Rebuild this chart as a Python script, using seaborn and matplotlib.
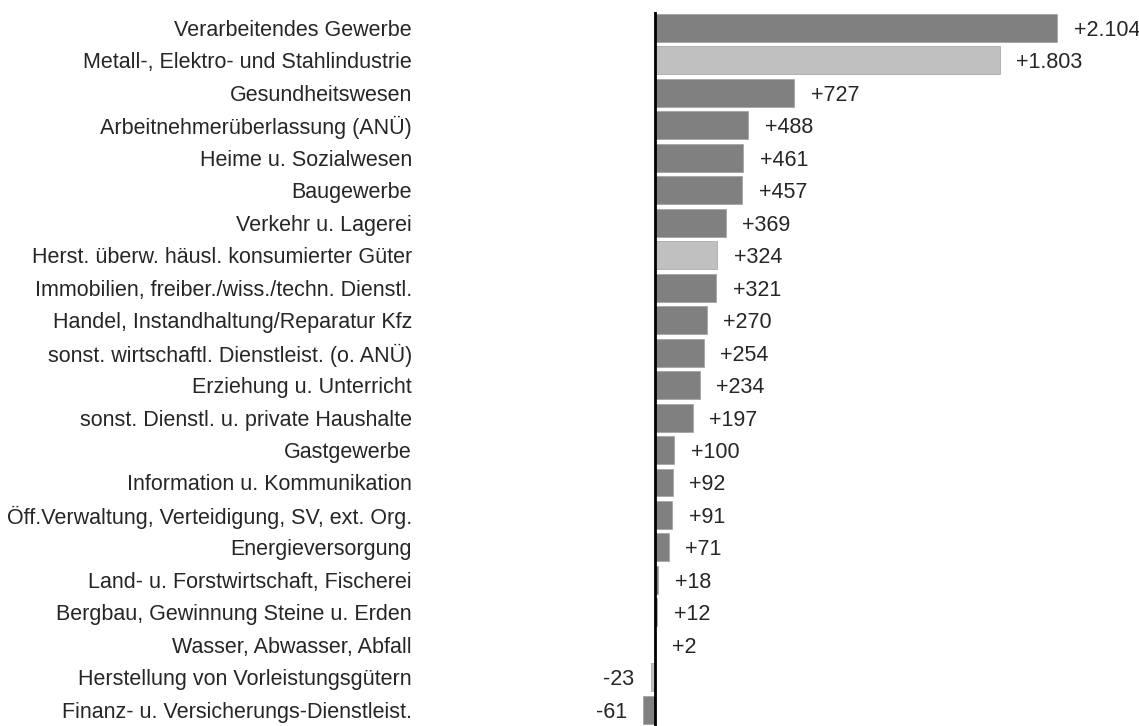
import matplotlib
matplotlib.use("Agg")
import matplotlib.pyplot as plt
import seaborn as sns
import pandas as pd

# Data
branchen = [
    "Verarbeitendes Gewerbe",
    "Metall-, Elektro- und Stahlindustrie",
    "Gesundheitswesen",
    "Arbeitnehmerüberlassung (ANÜ)",
    "Heime u. Sozialwesen",
    "Baugewerbe",
    "Verkehr u. Lagerei",
    "Herst. überw. häusl. konsumierter Güter",
    "Immobilien, freiber./wiss./techn. Dienstl.",
    "Handel, Instandhaltung/Reparatur Kfz",
    "sonst. wirtschaftl. Dienstleist. (o. ANÜ)",
    "Erziehung u. Unterricht",
    "sonst. Dienstl. u. private Haushalte",
    "Gastgewerbe",
    "Information u. Kommunikation",
    "Öff.Verwaltung, Verteidigung, SV, ext. Org.",
    "Energieversorgung",
    "Land- u. Forstwirtschaft, Fischerei",
    "Bergbau, Gewinnung Steine u. Erden",
    "Wasser, Abwasser, Abfall",
    "Herstellung von Vorleistungsgütern",
    "Finanz- u. Versicherungs-Dienstleist.",
]
veraenderung = [2104, 1803, 727, 488, 461, 457, 369, 324, 321, 270, 254,
                234, 197, 100, 92, 91, 71, 18, 12, 2, -23, -61]
gruppe = ["haupt", "teil", "haupt", "haupt", "haupt", "haupt", "haupt", "teil",
          "haupt", "haupt", "haupt", "haupt", "haupt", "haupt", "haupt", "haupt",
          "haupt", "haupt", "haupt", "haupt", "teil", "haupt"]

df = pd.DataFrame({"branche": branchen, "wert": veraenderung, "gruppe": gruppe})

sns.set_style("white")
plt.rcParams["font.family"] = ["Liberation Sans", "DejaVu Sans"]
fs = 15.5

fig = plt.figure(figsize=(11.39, 7.26), dpi=100)
ax = fig.add_axes([412 / 1139, 0, 1 - 412 / 1139, 1 - 11.7 / 726])

sns.barplot(data=df, x="wert", y="branche", hue="gruppe",
            palette={"haupt": "#808080", "teil": "#c0c0c0"},
            dodge=False, legend=False, width=0.86, saturation=1,
            edgecolor="#a0a0a0", linewidth=0.5, ax=ax)

ax.set_xlim(-1272, 2533)
ax.set_ylim(len(branchen) - 0.5, -0.5)
ax.axvline(0, color="black", lw=2)

for i, v in enumerate(veraenderung):
    if v >= 0:
        txt = "+" + f"{v:,}".replace(",", ".")
        ax.annotate(txt, (v, i), xytext=(12, 0), textcoords="offset points",
                    ha="left", va="center_baseline", fontsize=fs)
    else:
        ax.annotate(f"{v}", (v, i), xytext=(-12, 0), textcoords="offset points",
                    ha="right", va="center_baseline", fontsize=fs)

ax.set_xlabel("")
ax.set_ylabel("")
ax.set_xticks([])
ax.tick_params(axis="y", length=0, pad=0, labelsize=fs)
sns.despine(ax=ax, left=True, bottom=True)

fig.savefig("out.png", dpi=100)
